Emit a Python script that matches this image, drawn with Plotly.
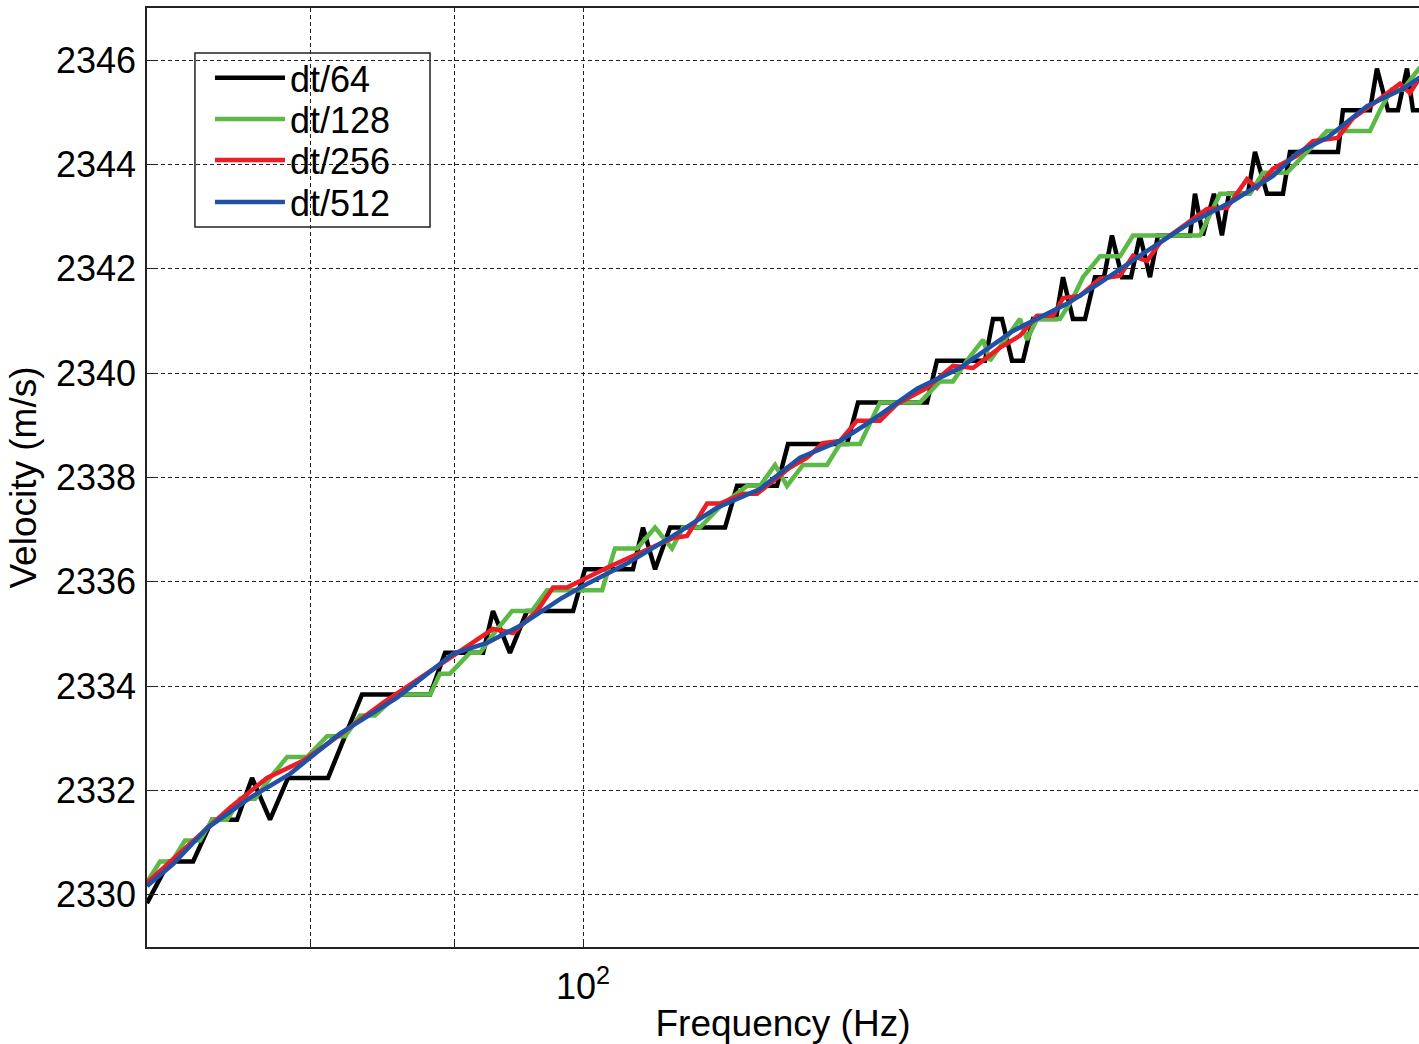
import math
import plotly.graph_objects as go

# ---- data (frequency in Hz, velocity in m/s) ----
freq_dt64 = [70.00, 71.27, 72.69, 73.83, 75.35, 76.28, 77.41, 78.56, 81.17, 82.31,
             83.46, 88.24, 89.33, 92.15, 92.90, 94.20, 95.52, 99.19, 100.16, 104.17,
             105.03, 106.07, 107.38, 112.32, 113.43, 117.20, 118.26, 124.10, 125.23, 132.50,
             133.58, 138.93, 139.85, 140.88, 142.04, 143.32, 144.50, 147.24, 148.09, 149.30,
             150.78, 152.01, 153.14, 154.14, 155.41, 156.56, 157.71, 159.01, 160.05, 162.03,
             164.30, 164.97, 166.05, 167.55, 168.65, 169.62, 172.28, 173.27, 174.98, 177.28,
             178.30, 185.44, 186.20, 190.36, 191.45, 193.18, 194.77, 196.21, 197.18, 200.00]
vel_dt64 = [2329.84, 2330.64, 2330.64, 2331.44, 2331.44, 2332.24, 2331.44, 2332.24, 2332.24, 2333.04,
            2333.84, 2333.84, 2334.64, 2334.64, 2335.44, 2334.64, 2335.44, 2335.44, 2336.24, 2336.24,
            2337.04, 2336.24, 2337.04, 2337.04, 2337.84, 2337.84, 2338.64, 2338.64, 2339.44, 2339.44,
            2340.24, 2340.24, 2341.04, 2341.04, 2340.24, 2340.24, 2341.04, 2341.04, 2341.84, 2341.04,
            2341.04, 2341.84, 2341.84, 2342.64, 2341.84, 2341.84, 2342.64, 2341.84, 2342.64, 2342.64,
            2342.64, 2343.44, 2342.64, 2343.44, 2342.64, 2343.44, 2343.44, 2344.24, 2343.44, 2343.44,
            2344.24, 2344.24, 2345.04, 2345.04, 2345.84, 2345.04, 2345.04, 2345.84, 2345.04, 2345.04]

freq_dt128 = [70.00, 70.75, 71.45, 72.21, 73.10, 73.83, 74.74, 75.54, 76.47, 77.41,
              78.50, 79.79, 81.11, 82.31, 83.33, 84.35, 85.89, 88.24, 88.96, 89.69,
              91.17, 91.92, 93.06, 94.36, 95.91, 97.10, 101.57, 102.65, 104.52, 106.07,
              107.55, 108.52, 110.04, 111.86, 114.36, 115.58, 117.01, 118.16, 119.72, 122.09,
              123.39, 125.43, 126.46, 127.50, 131.74, 133.91, 135.34, 136.90, 138.71, 139.50,
              142.97, 143.79, 144.97, 147.72, 149.30, 150.53, 152.64, 155.16, 156.81, 165.65,
              168.38, 172.56, 174.41, 177.86, 183.78, 190.36, 191.92, 193.78, 195.57, 198.15, 200.00]
vel_dt128 = [2330.24, 2330.64, 2330.64, 2331.04, 2331.04, 2331.44, 2331.44, 2331.84, 2331.84, 2332.24,
             2332.64, 2332.64, 2333.04, 2333.04, 2333.44, 2333.44, 2333.84, 2333.84, 2334.24, 2334.24,
             2334.64, 2334.64, 2335.04, 2335.44, 2335.44, 2335.84, 2335.84, 2336.64, 2336.64, 2337.04,
             2336.64, 2337.04, 2337.04, 2337.44, 2337.84, 2337.84, 2338.24, 2337.84, 2338.24, 2338.24,
             2338.64, 2338.64, 2339.04, 2339.44, 2339.44, 2339.84, 2339.84, 2340.24, 2340.64, 2340.24,
             2341.04, 2340.64, 2341.04, 2341.04, 2341.44, 2341.84, 2342.24, 2342.24, 2342.64, 2342.64,
             2343.44, 2343.44, 2343.84, 2343.84, 2344.64, 2344.64, 2345.04, 2345.44, 2345.44, 2345.84, 2345.84]

freq_dt256 = [70.00, 71.51, 74.92, 77.22, 79.53, 81.11, 84.91, 89.91, 92.90, 94.43,
              96.31, 97.58, 98.70, 101.98, 107.64, 108.88, 110.68, 111.86, 113.98, 115.30,
              118.45, 120.11, 121.69, 123.39, 125.12, 127.50, 129.28, 132.50, 135.34, 137.58,
              140.65, 142.97, 144.97, 146.88, 148.09, 150.16, 152.64, 155.16, 156.81, 158.62,
              160.32, 166.60, 169.35, 172.14, 173.55, 175.84, 179.33, 181.69, 185.39, 187.73,
              190.83, 195.09, 196.69, 198.15, 200.00]
vel_dt256 = [2330.23, 2330.69, 2331.67, 2332.24, 2332.57, 2332.89, 2333.68, 2334.58, 2335.10, 2335.02,
             2335.44, 2335.89, 2335.89, 2336.27, 2336.84, 2336.88, 2337.50, 2337.50, 2337.69, 2337.69,
             2338.19, 2338.38, 2338.66, 2338.70, 2339.09, 2339.09, 2339.41, 2339.72, 2340.14, 2340.10,
             2340.49, 2340.72, 2341.10, 2341.10, 2341.44, 2341.48, 2341.81, 2341.87, 2342.25, 2342.15,
             2342.50, 2343.15, 2343.17, 2343.72, 2343.55, 2343.92, 2344.17, 2344.45, 2344.51, 2344.89,
             2345.16, 2345.55, 2345.37, 2345.64, 2345.72]

freq_dt512 = [70.00, 71.51, 73.53, 76.15, 78.69, 81.97, 85.89, 89.91, 92.45, 94.98,
              98.14, 100.00, 103.66, 107.64, 111.58, 115.58, 119.42, 123.39, 126.15, 131.42,
              136.12, 142.15, 148.57, 152.64, 158.10, 164.30, 170.18, 175.84, 179.33, 183.78,
              189.90, 195.57, 198.15, 200.00]
vel_dt512 = [2330.17, 2330.59, 2331.28, 2331.86, 2332.32, 2333.09, 2333.78, 2334.62, 2334.83, 2335.16,
             2335.67, 2335.92, 2336.35, 2336.88, 2337.42, 2337.78, 2338.38, 2338.70, 2339.03, 2339.70,
             2340.10, 2340.81, 2341.33, 2341.73, 2342.29, 2342.88, 2343.30, 2343.78, 2344.22, 2344.51,
             2345.12, 2345.45, 2345.66, 2345.75]

series_names = ["dt/64", "dt/128", "dt/256", "dt/512"]
series_colors = ["#000000", "#5cb946", "#ee1c25", "#2250a5"]

x_major_vals = [100]
x_major_text = ["10<sup>2</sup>"]
x_minor_vals = [70, 80, 90, 200]
y_tick_vals = [2330, 2332, 2334, 2336, 2338, 2340, 2342, 2344, 2346]

FONT = "Liberation Sans, Arial, Helvetica, sans-serif"
legend_ids = ["legend", "legend2", "legend3", "legend4"]
legend_rows_y = [0.9255, 0.8818, 0.8381, 0.7934]   # row centres inside the legend frame

fig = go.Figure()
for name, fx, vy, col, lg in zip(series_names,
                                 [freq_dt64, freq_dt128, freq_dt256, freq_dt512],
                                 [vel_dt64, vel_dt128, vel_dt256, vel_dt512],
                                 series_colors, legend_ids):
    fig.add_trace(go.Scatter(x=fx, y=vy, mode="lines", name=name, legend=lg,
                             line=dict(color=col, width=4.5)))

# legend frame (opaque white box, drawn above grid but below the data)
fig.add_shape(type="rect", xref="paper", yref="paper",
              x0=0.0377, x1=0.2225, y0=0.7668, y1=0.9521,
              layer="between", fillcolor="white",
              line=dict(color="#222", width=1.5))

legend_style = dict(x=0.0495, xanchor="left", yanchor="middle",
                    bgcolor="rgba(0,0,0,0)", borderwidth=0,
                    font=dict(size=36, family=FONT), itemwidth=70)

fig.update_layout(
    width=1419, height=1044,
    margin=dict(l=147, r=0, t=8, b=97, autoexpand=False),
    paper_bgcolor="white", plot_bgcolor="white",
    font=dict(family=FONT, color="black", size=36),
    showlegend=True,
    legend=dict(y=legend_rows_y[0], **legend_style),
    legend2=dict(y=legend_rows_y[1], **legend_style),
    legend3=dict(y=legend_rows_y[2], **legend_style),
    legend4=dict(y=legend_rows_y[3], **legend_style),
)
fig.update_xaxes(
    type="log", range=[math.log10(70), math.log10(198.15)], automargin=False,
    tickmode="array", tickvals=x_major_vals, ticktext=x_major_text,
    ticks="inside", ticklen=8, tickcolor="#222", tickwidth=1,
    showgrid=True, gridcolor="#222", gridwidth=1, griddash="4px,3px",
    minor=dict(tickmode="array", tickvals=x_minor_vals, ticks="inside", ticklen=8,
               tickcolor="#222", showgrid=True, gridcolor="#222", gridwidth=1,
               griddash="4px,3px"),
    showline=True, linecolor="#222", linewidth=1.5, mirror=True,
    zeroline=False, tickfont=dict(size=36, family=FONT),
    ticklabelstandoff=7,
    title=dict(text="Frequency (Hz)", font=dict(size=37, family=FONT), standoff=8),
)
fig.update_yaxes(
    range=[2329, 2347], automargin=False, tickmode="array", tickvals=y_tick_vals,
    ticks="inside", ticklen=8, tickcolor="#222", tickwidth=1,
    showgrid=True, gridcolor="#222", gridwidth=1, griddash="4px,3px",
    showline=True, linecolor="#222", linewidth=1.5, mirror=False,
    zeroline=False, tickfont=dict(size=36, family=FONT),
    ticklabelstandoff=2,
    title=dict(text="Velocity (m/s)", font=dict(size=37, family=FONT), standoff=8),
)

fig.write_html("out.html", config={"displayModeBar": False},
               post_script="document.body.style.margin='0px';")
